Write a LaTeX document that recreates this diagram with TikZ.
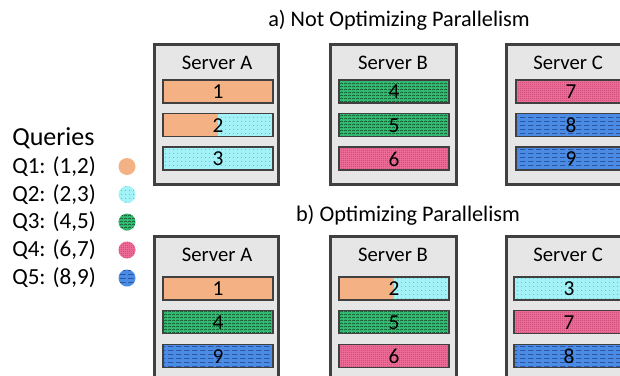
\documentclass[tikz,border=0pt]{standalone}
\usepackage{fontspec}
\setmainfont{Carlito}
\usetikzlibrary{patterns}

% fill textures for the query blocks
\pgfdeclarepatternformonly{cyandots}{\pgfqpoint{0pt}{0pt}}{\pgfqpoint{3pt}{3pt}}{\pgfqpoint{3pt}{3pt}}%
  {\pgfpathcircle{\pgfqpoint{1.5pt}{1.5pt}}{0.4pt}\pgfusepath{fill}}
\pgfdeclarepatternformonly{pinkdots}{\pgfqpoint{0pt}{0pt}}{\pgfqpoint{1.6pt}{1.6pt}}{\pgfqpoint{1.6pt}{1.6pt}}%
  {\pgfpathcircle{\pgfqpoint{0.8pt}{0.8pt}}{0.35pt}\pgfusepath{fill}}
\pgfdeclarepatternformonly{greenwave}{\pgfqpoint{0pt}{0pt}}{\pgfqpoint{3pt}{2.2pt}}{\pgfqpoint{3pt}{2.2pt}}%
  {\pgfsetlinewidth{0.45pt}%
   \pgfpathmoveto{\pgfqpoint{0pt}{0.6pt}}%
   \pgfpathlineto{\pgfqpoint{1.5pt}{1.6pt}}%
   \pgfpathlineto{\pgfqpoint{3pt}{0.6pt}}%
   \pgfusepath{stroke}}
\pgfdeclarepatternformonly{bluedash}{\pgfqpoint{0pt}{0pt}}{\pgfqpoint{6pt}{3pt}}{\pgfqpoint{6pt}{3pt}}%
  {\pgfsetlinewidth{0.4pt}%
   \pgfpathmoveto{\pgfqpoint{0pt}{1.5pt}}%
   \pgfpathlineto{\pgfqpoint{4.5pt}{1.5pt}}%
   \pgfusepath{stroke}}

\definecolor{frameline}{HTML}{404040}
\definecolor{framefill}{HTML}{E6E6E6}
\definecolor{barline}{HTML}{404040}
\definecolor{qorange}{HTML}{F4B183}
\definecolor{qcyan}{HTML}{A2F2F7}
\definecolor{qcyandot}{HTML}{4E9AA2}
\definecolor{qgreen}{HTML}{36C177}
\definecolor{qgreenline}{HTML}{0E4A26}
\definecolor{qpink}{HTML}{EE6C98}
\definecolor{qpinkdot}{HTML}{9A2150}
\definecolor{qblue}{HTML}{4A8BE6}
\definecolor{qblueline}{HTML}{1C3A78}

\tikzset{
  server/.style={draw=frameline, fill=framefill, line width=2.25pt},
  barframe/.style={draw=barline, line width=1.15pt},
  qone/.style={fill=qorange},
  qtwo/.style={fill=qcyan, postaction={pattern=cyandots, pattern color=qcyandot}},
  qthree/.style={fill=qgreen, postaction={pattern=greenwave, pattern color=qgreenline}},
  qfour/.style={fill=qpink, postaction={pattern=pinkdots, pattern color=qpinkdot}},
  qfive/.style={fill=qblue, postaction={pattern=bluedash, pattern color=qblueline}},
  numtext/.style={inner sep=0pt, font=\fontsize{16}{18}\selectfont},
  servertext/.style={inner sep=0pt, font=\fontsize{15.5}{18}\selectfont},
  titletext/.style={inner sep=0pt, font=\fontsize{16.7}{20}\selectfont},
  legendtext/.style={inner sep=0pt, anchor=west, font=\fontsize{17.3}{20}\selectfont},
  legendhead/.style={inner sep=0pt, anchor=west, font=\fontsize{19.5}{22}\selectfont},
}

% one block of a query: left x, top y, fill style, label, node name
\newcommand{\querybar}[5]{%
  \path[#3] (#1,#2) rectangle ++(110,23);
  \draw[barframe] (#1,#2) rectangle ++(110,23);
  \node[numtext] (#5) at ({#1+55},{#2+12}) {#4};
}
% a block shared by two queries: left half and right half
\newcommand{\splitbar}[6]{%
  \path[#3] (#1,#2) rectangle ++(55,23);
  \path[#4] ({#1+55},#2) rectangle ++(55,23);
  \draw[barframe] (#1,#2) rectangle ++(110,23);
  \node[numtext] (#6) at ({#1+55},{#2+12}) {#5};
}

\begin{document}
\begin{tikzpicture}[x=0.75pt, y=-0.75pt]
\useasboundingbox (0,0) rectangle (620,375);
\clip (0,0) rectangle (620,375);

% ---- a) ----
\node[titletext] (titleA) at (399,20) {a) Not Optimizing Parallelism};

\draw[server] (154.5,44.5) rectangle (278.5,184.5);
\draw[server] (330.5,44.5) rectangle (456.5,184.5);
\draw[server] (506.5,44.5) rectangle (636,184.5);
\node[servertext] (aSA) at (217,63) {Server A};
\node[servertext] (aSB) at (393,63) {Server B};
\node[servertext] (aSC) at (568,63) {Server C};

\querybar{163}{80}{qone}{1}{a1}
\splitbar{163}{113.5}{qone}{qtwo}{2}{a2}
\querybar{163}{147}{qtwo}{3}{a3}

\querybar{339}{80}{qthree}{4}{a4}
\querybar{339}{113.5}{qthree}{5}{a5}
\querybar{339}{147}{qfour}{6}{a6}

\querybar{516}{80}{qfour}{7}{a7}
\querybar{516}{113.5}{qfive}{8}{a8}
\querybar{516}{147}{qfive}{9}{a9}

% ---- b) ----
\node[titletext] (titleB) at (408,215) {b) Optimizing Parallelism};

\draw[server] (154.5,236.5) rectangle (278.5,390);
\draw[server] (330.5,236.5) rectangle (456.5,390);
\draw[server] (506.5,236.5) rectangle (636,390);
\node[servertext] (bSA) at (217,255) {Server A};
\node[servertext] (bSB) at (393,255) {Server B};
\node[servertext] (bSC) at (568,255) {Server C};

\querybar{163}{277}{qone}{1}{b1}
\querybar{163}{310.5}{qthree}{4}{b4}
\querybar{163}{344.5}{qfive}{9}{b9}

\splitbar{339}{277}{qone}{qtwo}{2}{b2}
\querybar{339}{310.5}{qthree}{5}{b5}
\querybar{339}{344.5}{qfour}{6}{b6}

\querybar{514}{277}{qtwo}{3}{b3}
\querybar{514}{310.5}{qfour}{7}{b7}
\querybar{514}{344.5}{qfive}{8}{b8}

% ---- legend ----
\node[legendhead] (queries) at (12,138) {Queries};
\node[legendtext] (q1) at (12,166.5) {Q1: (1,2)};
\node[legendtext] (q2) at (12,194.5) {Q2: (2,3)};
\node[legendtext] (q3) at (12,222) {Q3: (4,5)};
\node[legendtext] (q4) at (12,250) {Q4: (6,7)};
\node[legendtext] (q5) at (12,278) {Q5: (8,9)};
\path[qone]   (127,166.5) circle (8.5);
\path[qtwo]   (127,194.5) circle (8.5);
\path[qthree] (127,222)   circle (8.5);
\path[qfour]  (127,250)   circle (8.5);
\path[qfive]  (127,278)   circle (8.5);
\end{tikzpicture}
\end{document}
